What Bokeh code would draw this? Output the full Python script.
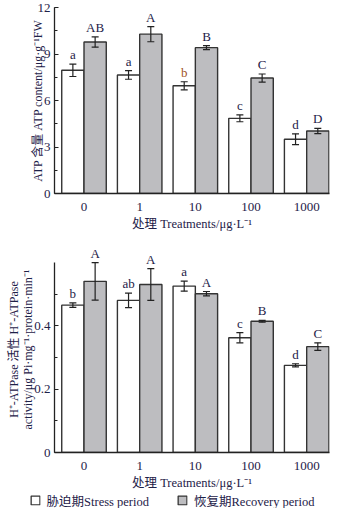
from bokeh.plotting import figure
from bokeh.models import (ColumnDataSource, Range1d, Whisker, TeeHead, Legend, LegendItem,
                          FixedTicker, SingleIntervalTicker)
from bokeh.layouts import column
from bokeh.embed import file_html
from bokeh.resources import INLINE
from bokeh.core.properties import value
import numpy as np

# ---------------- data ----------------
concentrations = ["0", "1", "10", "100", "1000"]

atp_stress = [7.95, 7.65, 6.95, 4.85, 3.50]
atp_stress_err = [0.40, 0.28, 0.26, 0.22, 0.35]
atp_recovery = [9.77, 10.28, 9.41, 7.45, 4.03]
atp_recovery_err = [0.33, 0.49, 0.13, 0.26, 0.17]
atp_stress_letters = ["a", "a", "b", "c", "d"]
atp_recovery_letters = ["AB", "A", "B", "C", "D"]

h_stress = [0.465, 0.480, 0.525, 0.362, 0.275]
h_stress_err = [0.007, 0.023, 0.016, 0.016, 0.005]
h_recovery = [0.540, 0.530, 0.501, 0.414, 0.334]
h_recovery_err = [0.059, 0.050, 0.007, 0.003, 0.012]
h_stress_letters = ["b", "ab", "a", "c", "d"]
h_recovery_letters = ["A", "A", "A", "B", "C"]

legend_labels = ["胁迫期Stress period", "恢复期Recovery period"]

SERIF = "Liberation Serif, Noto Sans CJK SC"
TXT = "#1e2148"
GRAY = "#bdbdc0"
EDGE = "#333333"
BAR_W = 0.4
OFF = 0.2


def make_panel(stress, s_err, rec, r_err, s_let, r_let, s_colors, height, y_end,
               ticker, ylabel, borders, label_standoff, bounds=None, overrides=None):
    idx = np.arange(len(concentrations))
    p = figure(width=344, height=height, output_backend="svg", toolbar_location=None,
               x_range=Range1d(-0.53, 4.41), y_range=Range1d(0, y_end))
    p.min_border_left, p.min_border_right, p.min_border_top, p.min_border_bottom = borders
    p.outline_line_color = None
    p.xgrid.visible = False
    p.ygrid.visible = False
    p.background_fill_color = "white"

    s_src = ColumnDataSource(dict(x=idx - OFF, top=stress, upper=np.array(stress) + np.array(s_err),
                                  lower=np.array(stress) - np.array(s_err), lab=s_let, col=s_colors))
    r_src = ColumnDataSource(dict(x=idx + OFF, top=rec, upper=np.array(rec) + np.array(r_err),
                                  lower=np.array(rec) - np.array(r_err), lab=r_let))

    p.vbar(x="x", top="top", width=BAR_W, source=s_src, fill_color="white",
           line_color=EDGE, line_width=1.4)
    p.vbar(x="x", top="top", width=BAR_W, source=r_src, fill_color=GRAY,
           line_color=EDGE, line_width=1.4)

    for src in (s_src, r_src):
        w = Whisker(base="x", upper="upper", lower="lower", source=src, line_color="#222222",
                    line_width=1.2, level="overlay",
                    upper_head=TeeHead(size=7, line_color="#222222", line_width=1.2),
                    lower_head=TeeHead(size=7, line_color="#222222", line_width=1.2))
        p.add_layout(w)

    s_color = "col" if len(set(s_colors)) > 1 else s_colors[0]
    p.text(x="x", y="upper", text="lab", source=s_src, text_align="center",
           text_baseline="bottom", y_offset=-2, text_font=value(SERIF),
           text_font_size="13px", text_color=s_color)
    p.text(x="x", y="upper", text="lab", source=r_src, text_align="center",
           text_baseline="bottom", y_offset=-2, text_font=value(SERIF),
           text_font_size="13px", text_color=TXT)

    # x axis
    xa = p.xaxis[0]
    xa.ticker = FixedTicker(ticks=list(range(len(concentrations))))
    xa.major_label_overrides = {i: c for i, c in enumerate(concentrations)}
    xa.major_tick_line_color = None
    xa.minor_tick_line_color = None
    xa.axis_line_color = "#222222"
    xa.axis_line_width = 1.3
    xa.major_label_text_font = SERIF
    xa.major_label_text_font_size = "13px"
    xa.major_label_text_color = TXT
    xa.major_label_standoff = 3
    xa.axis_label = "处理 Treatments/μg·L⁻¹"
    xa.axis_label_text_font = SERIF
    xa.axis_label_text_font_size = "12.5px"
    xa.axis_label_text_font_style = "normal"
    xa.axis_label_text_color = TXT
    xa.axis_label_standoff = 3

    # y axis
    ya = p.yaxis[0]
    ya.ticker = ticker
    ya.major_tick_in = 4
    ya.major_tick_out = 0
    ya.minor_tick_in = 3
    ya.minor_tick_out = 0
    ya.axis_line_color = "#222222"
    ya.axis_line_width = 1.3
    ya.major_tick_line_color = "#222222"
    ya.minor_tick_line_color = "#222222"
    ya.major_label_text_font = SERIF
    ya.major_label_text_font_size = "13px"
    ya.major_label_text_color = TXT
    ya.major_label_standoff = 4
    if overrides:
        ya.major_label_overrides = overrides
    if bounds:
        ya.bounds = bounds
    ya.axis_label = ylabel
    ya.axis_label_text_font = SERIF
    ya.axis_label_text_font_size = "12px"
    ya.axis_label_text_font_style = "normal"
    ya.axis_label_text_color = TXT
    ya.axis_label_text_line_height = 1.0
    ya.axis_label_standoff = label_standoff
    return p


p1 = make_panel(atp_stress, atp_stress_err, atp_recovery, atp_recovery_err,
                atp_stress_letters, atp_recovery_letters,
                [TXT, TXT, "#a0521e", TXT, TXT],
                233, 12, SingleIntervalTicker(interval=3, num_minor_ticks=2),
                "ATP 含量 ATP content/μg·g⁻¹FW", (45, 15, 7, 40), -10)

p2 = make_panel(h_stress, h_stress_err, h_recovery, h_recovery_err,
                h_stress_letters, h_recovery_letters, [TXT] * 5,
                259, 0.65, SingleIntervalTicker(interval=0.2, num_minor_ticks=2),
                "H⁺-ATPase 活性 H⁺-ATPase\nactivity/μg Pi·mg⁻¹·protein·min⁻¹",
                (54, 6, 13, 40), -4, bounds=(0, 0.6), overrides={0: "0"})

# legend strip
p3 = figure(frame_width=344, frame_height=16, output_backend="svg", toolbar_location=None,
            x_range=Range1d(0, 1), y_range=Range1d(0, 1), x_axis_type=None, y_axis_type=None,
            min_border=0)
p3.outline_line_color = None
p3.xgrid.visible = False
p3.ygrid.visible = False
# placeholder renderers (kept outside the visible range) that only feed the legend
holder = ColumnDataSource(dict(x=[-5.0], top=[0.0]))
ls = p3.vbar(x="x", top="top", width=0.1, source=holder, fill_color="white",
             line_color=EDGE, line_width=1.3)
lr = p3.vbar(x="x", top="top", width=0.1, source=holder, fill_color=GRAY,
             line_color=EDGE, line_width=1.3)
legend = Legend(items=[LegendItem(label=legend_labels[0], renderers=[ls]),
                       LegendItem(label=legend_labels[1], renderers=[lr])],
                orientation="horizontal", location="center", border_line_color=None,
                background_fill_alpha=0, margin=0, padding=0, spacing=28,
                glyph_width=11, glyph_height=11, label_text_font=SERIF,
                label_text_font_size="12.5px", label_text_color=TXT, label_standoff=6,
                label_height=14)
p3.add_layout(legend)

layout = column(p1, p2, p3, spacing=0)
open("out.html", "w").write(file_html(layout, INLINE))
